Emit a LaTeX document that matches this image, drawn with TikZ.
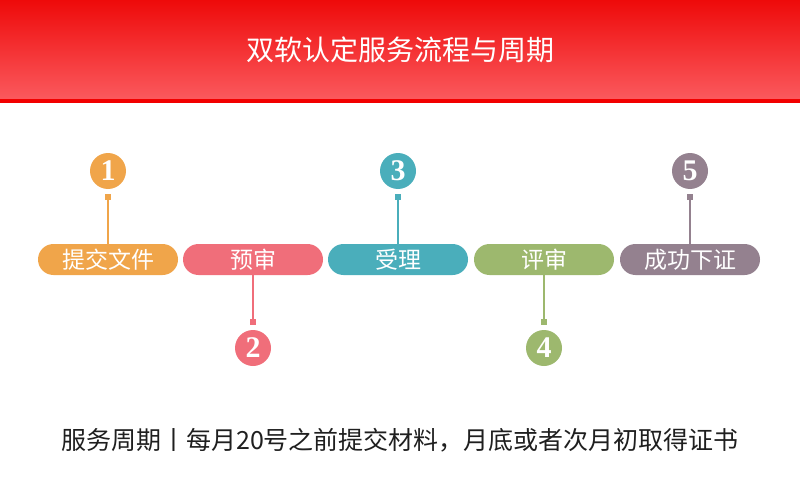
\documentclass[tikz,border=0pt]{standalone}
\usepackage{fontspec}
\newfontfamily\cjk{Noto Sans CJK SC}
\newfontfamily\numf{Liberation Serif}
\definecolor{cA}{HTML}{F0A54A}
\definecolor{cB}{HTML}{F06E7A}
\definecolor{cC}{HTML}{4AAEBB}
\definecolor{cD}{HTML}{9DB86E}
\definecolor{cE}{HTML}{94818F}
\definecolor{hdtop}{HTML}{EE0A0A}
\definecolor{hdbot}{HTML}{FB5A5E}
\tikzset{
  pill/.style={rounded corners=15.5pt, minimum width=140pt, minimum height=31pt, inner sep=0pt, text=white, font=\cjk\fontsize{23}{23}\selectfont},
  num/.style={circle, minimum size=36pt, inner sep=0pt, text=white, font=\numf\bfseries\fontsize{30}{30}\selectfont},
  sq/.style={minimum size=6pt, inner sep=0pt},
  conn/.style={line width=2pt}
}
\begin{document}
\begin{tikzpicture}[x=1pt,y=-1pt]
\useasboundingbox (0,0) rectangle (800,500);
\shade[top color=hdtop, bottom color=hdbot] (0,0) rectangle (800,100);
\fill[red!95!black] (0,99) rectangle (800,103);
\node[text=white, font=\cjk\fontsize{28}{28}\selectfont] (title) at (400,50) {双软认定服务流程与周期};
\foreach \i/\x/\c/\t/\cy/\sy in {1/108/cA/提交文件/171/197, 2/253/cB/预审/348/322, 3/398/cC/受理/171/197, 4/544/cD/评审/348/322, 5/690/cE/成功下证/171/197}{
  \node[pill, fill=\c] (p\i) at (\x,259.5) {\t};
  \node[num, fill=\c] (n\i) at (\x,\cy) {\i};
  \node[sq, fill=\c] (s\i) at (\x,\sy) {};
  \draw[conn, draw=\c] (s\i) -- (p\i);
}
\node[text=black!88, font=\cjk\fontsize{25}{25}\selectfont] (foot) at (400,440) {服务周期丨每月20号之前提交材料，月底或者次月初取得证书};
\end{tikzpicture}
\end{document}
